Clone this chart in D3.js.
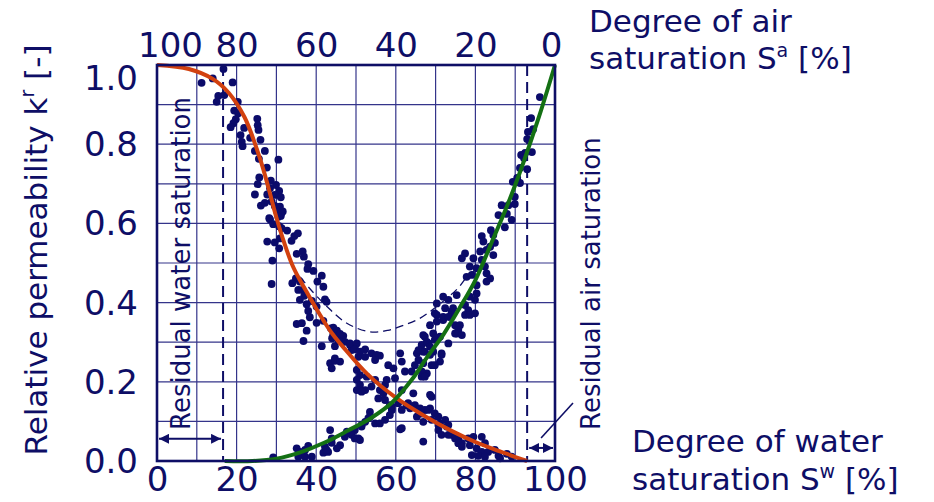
<!DOCTYPE html>
<html>
<head>
<meta charset="utf-8">
<script src="https://cdn.jsdelivr.net/npm/d3@7"></script>
<style>
  body { margin: 0; background: #fff; }
  text { font-family: "DejaVu Sans", Verdana, sans-serif; fill: #0e0e66; }
</style>
</head>
<body>
<svg id="chart" width="934" height="502"></svg>
<script>
// water saturation ticks (bottom) and air saturation ticks (top)
var swTicks = [0, 20, 40, 60, 80, 100];
var saTicks = [100, 80, 60, 40, 20, 0];
var krTicks = [0, 0.2, 0.4, 0.6, 0.8, 1.0];

// residual saturations [%]
var residualWater = 16.6;
var residualAir = 93;

// fitted curves [Sw %, kr]
var krAir = [[0,1.0],[8,0.99],[14,0.965],[18,0.93],[22,0.868],[26,0.76],[28,0.69],[30,0.615],[32,0.55],
  [34,0.495],[36,0.455],[38,0.42],[40,0.385],[42,0.352],[44,0.322],[47,0.285],[53,0.218],[60,0.16],
  [67,0.115],[74,0.076],[80,0.048],[86,0.025],[93,0]];
var krWater = [[17,0],[24,0],[30,0.006],[36,0.022],[42,0.046],[48,0.077],[54,0.11],[59,0.147],
  [64,0.205],[68,0.264],[72,0.32],[76,0.386],[80,0.457],[84,0.55],[88,0.645],[92,0.752],[96,0.87],[100,1.0]];
var krSum = [[36,0.465],[38,0.44],[42.7,0.39],[47.7,0.348],[53.5,0.326],[58,0.33],[62,0.343],[66,0.36],
  [70,0.388],[75.5,0.435],[78.5,0.472],[81.5,0.49]];

// measured points [Sw %, kr]
var measured = [
  [11.2,0.955],[14.0,0.966],[16.7,0.990],[19.0,0.956],[15.4,0.922],[15.0,0.907],[16.9,0.924],[20.3,0.907],
  [19.4,0.885],[20.4,0.878],[19.8,0.863],[19.2,0.853],[18.5,0.843],[21.9,0.841],[25.2,0.864],[25.3,0.848],
  [25.5,0.836],[21.0,0.823],[21.3,0.806],[21.5,0.795],[23.4,0.816],[26.0,0.811],[24.6,0.783],[27.1,0.783],
  [25.6,0.763],[30.5,0.761],[27.6,0.741],[25.7,0.716],[25.3,0.699],[28.6,0.708],[29.9,0.697],[28.4,0.689],
  [30.7,0.682],[24.6,0.673],[27.7,0.673],[29.6,0.672],[31.1,0.666],[28.8,0.655],[26.1,0.645],[27.1,0.652],
  [29.6,0.644],[30.9,0.642],[30.2,0.630],[31.6,0.630],[31.1,0.619],[28.2,0.613],
  [28.4,0.610],[29.2,0.598],[31.2,0.625],[30.5,0.617],[30.7,0.593],[31.3,0.588],[32.7,0.582],[27.7,0.554],
  [29.6,0.552],[30.7,0.537],[30.9,0.562],[33.8,0.556],[34.5,0.568],[35.4,0.575],[29.0,0.506],[28.8,0.447],
  [35.1,0.523],[36.6,0.529],[36.9,0.516],[38.0,0.497],[39.3,0.480],[37.8,0.485],[41.4,0.468],[40.3,0.453],
  [41.8,0.440],[34.9,0.461],[34.0,0.449],[35.9,0.453],[35.5,0.432],[36.6,0.432],[37.0,0.417],[35.9,0.407],
  [37.6,0.396],[38.9,0.404],[40.1,0.390],[42.2,0.408],[42.6,0.402],[38.0,0.379],[38.4,0.363],[40.1,0.349],
  [41.8,0.354],[35.1,0.346],[36.4,0.348],[37.6,0.329],[36.8,0.303],[41.4,0.290],[44.3,0.337],[44.3,0.320],
  [45.6,0.311],[46.8,0.316],[47.2,0.301],[48.5,0.293],[49.7,0.287],[44.7,0.290],[48.9,0.280],[52.3,0.282],
  [53.9,0.272],[56.0,0.266],[44.7,0.259],[50.6,0.263],
  [43.7,0.335],[45.2,0.329],[46.0,0.321],[44.0,0.310],[45.6,0.304],[48.5,0.297],[50.2,0.297],[49.6,0.282],
  [51.0,0.276],[55.2,0.268],[52.3,0.263],[54.8,0.255],[43.5,0.247],[44.7,0.253],[46.0,0.251],[43.9,0.234],
  [50.2,0.230],[51.0,0.217],[50.2,0.205],[52.7,0.213],[54.8,0.205],[58.1,0.242],[59.4,0.234],[61.1,0.272],
  [61.5,0.251],[62.3,0.226],[64.0,0.226],[65.7,0.255],[65.3,0.272],[66.9,0.276],[66.5,0.293],[67.3,0.314],
  [68.2,0.297],[69.8,0.306],[71.1,0.314],[73.2,0.297],[71.9,0.356],[73.6,0.364],[74.0,0.377],[70.3,0.369],
  [75.3,0.322],[71.5,0.272],[69.4,0.276],[69.0,0.242],[67.8,0.221],[66.5,0.213],[64.8,0.242],[51.0,0.192],
  [50.2,0.179],[52.3,0.179],[53.9,0.188],[56.0,0.179],[57.3,0.192],[57.7,0.205],[59.8,0.209],[55.6,0.158],
  [57.3,0.154],[58.5,0.141],[60.6,0.146],[59.0,0.129],[61.5,0.129],[62.7,0.141],[63.6,0.133],[64.8,0.141],
  [66.1,0.133],[67.3,0.129],[68.6,0.133],[69.0,0.162],[65.3,0.112],[66.9,0.099],[69.0,0.104],[70.7,0.112],
  [71.1,0.095],[72.4,0.104],[73.2,0.091],[70.7,0.078],[71.5,0.066],[74.0,0.066],[75.7,0.057],[76.6,0.045],
  [61.5,0.083],[66.9,0.049],[53.5,0.124],[54.8,0.095],[53.1,0.108],[51.4,0.087],[49.7,0.078],[48.5,0.070],
  [50.6,0.057],[47.2,0.061],[46.0,0.040],[43.5,0.078],[43.9,0.057],[43.0,0.023],[42.2,0.036],
  [86.6,0.646],[88.3,0.646],[89.9,0.649],[85.8,0.621],[87.9,0.624],[89.1,0.609],[87.4,0.590],[83.9,0.583],
  [84.5,0.571],[81.6,0.568],[82.0,0.554],[84.9,0.551],[83.7,0.541],[81.2,0.529],[82.8,0.533],[84.5,0.520],
  [77.4,0.524],[76.6,0.512],[79.5,0.512],[81.6,0.508],[82.4,0.491],[80.3,0.487],[78.6,0.491],[77.8,0.465],
  [79.1,0.470],[82.8,0.474],[83.7,0.461],[82.8,0.453],[80.3,0.444],[80.3,0.423],[78.6,0.415],[79.9,0.407],
  [75.3,0.419],[71.9,0.415],[73.2,0.407],[70.3,0.398],[72.4,0.386],[74.4,0.386],[77.4,0.394],[78.2,0.381],
  [77.4,0.369],[78.6,0.369],[79.9,0.373],[69.8,0.373],[71.9,0.364],[73.2,0.364],[70.3,0.352],[68.6,0.343],
  [74.9,0.343],[76.1,0.343],[75.7,0.331],[74.9,0.322],[76.6,0.318],[66.9,0.318],[69.4,0.322],[70.3,0.310],
  [67.8,0.301],[68.6,0.289],[65.7,0.280],[67.3,0.276],[68.6,0.268],[71.5,0.268],[71.1,0.251],[69.8,0.242],
  [66.9,0.247],[66.5,0.226],[67.3,0.213],
  [29.2,0.009],[35.1,0.032],[35.9,0.023],[37.2,0.028],[38.0,0.038],[35.5,0.011],[37.2,0.011],[38.9,0.011],
  [41.8,0.021],[42.6,0.028],[43.9,0.046],[45.2,0.032],[47.7,0.074],[48.9,0.066],[49.7,0.057],[51.0,0.053],
  [51.4,0.091],[52.3,0.099],[53.5,0.112],[56.0,0.095],[57.3,0.104],[58.5,0.116],[61.1,0.080],[59.0,0.137],
  [63.1,0.146],[66.5,0.120],[68.2,0.129],[69.8,0.120],[70.7,0.091],[72.8,0.087],[73.2,0.066],[74.9,0.057],
  [75.7,0.045],[76.6,0.036],[78.2,0.057],[79.5,0.061],[81.6,0.061],[78.6,0.040],[80.3,0.032],[82.4,0.045],
  [81.6,0.023],[79.1,0.015],[80.7,0.013],[83.2,0.023],[84.9,0.028],[85.8,0.013],[87.9,0.018],[89.1,0.011],
  [82.4,0.011],[86.2,0.007],[51.4,0.175],[56.9,0.171],[61.5,0.179],[64.4,0.171],[68.6,0.167],
  [96.2,0.919],[94.0,0.866],[94.5,0.838],[93.2,0.831],[93.0,0.813],[94.2,0.780],[92.5,0.778],[91.5,0.773],
  [92.2,0.765],[91.2,0.740],[93.0,0.737],[90.5,0.715],[89.4,0.705],[91.2,0.702],[89.9,0.667]
];

var navy = '#0e0e66';
var svg = d3.select('#chart');
var plotLeft = 157, plotTop = 65, plotW = 398, plotH = 396;

var x = d3.scaleLinear().domain([0, 100]).range([plotLeft, plotLeft + plotW]);
var xAir = d3.scaleLinear().domain([100, 0]).range([plotLeft, plotLeft + plotW]);
var y = d3.scaleLinear().domain([0, 1]).range([plotTop + plotH, plotTop]);

// grid
var grid = svg.append('g').attr('stroke', '#34348a').attr('stroke-width', 1.2);
grid.selectAll('line.v')
  .data(d3.range(10, 100, 10))
  .enter().append('line')
    .attr('x1', x).attr('x2', x)
    .attr('y1', plotTop).attr('y2', plotTop + plotH);
grid.selectAll('line.h')
  .data(d3.range(1, 10).map(function(d) { return d / 10; }))
  .enter().append('line')
    .attr('y1', y).attr('y2', y)
    .attr('x1', plotLeft).attr('x2', plotLeft + plotW);

// residual saturation markers
svg.selectAll('line.residual')
  .data([residualWater, residualAir])
  .enter().append('line')
    .attr('x1', x).attr('x2', x)
    .attr('y1', plotTop).attr('y2', plotTop + plotH)
    .attr('stroke', navy)
    .attr('stroke-width', 2)
    .attr('stroke-dasharray', '11,6');

// measurements
svg.append('g')
  .selectAll('circle')
  .data(measured)
  .enter().append('circle')
    .attr('cx', function(d) { return x(d[0]); })
    .attr('cy', function(d) { return y(d[1]); })
    .attr('r', 3.9)
    .attr('fill', '#0b0b6a');

var line = d3.line()
  .x(function(d) { return x(d[0]); })
  .y(function(d) { return y(d[1]); })
  .curve(d3.curveCatmullRom.alpha(0.5));

svg.append('path').attr('d', line(krSum))
  .attr('fill', 'none').attr('stroke', navy)
  .attr('stroke-width', 1.3).attr('stroke-dasharray', '8,5');
svg.append('path').attr('d', line(krAir))
  .attr('fill', 'none').attr('stroke', '#d2410f').attr('stroke-width', 4);
svg.append('path').attr('d', line(krWater))
  .attr('fill', 'none').attr('stroke', '#147014').attr('stroke-width', 4);

// frame
svg.append('rect')
  .attr('x', plotLeft).attr('y', plotTop).attr('width', plotW).attr('height', plotH)
  .attr('fill', 'none').attr('stroke', navy).attr('stroke-width', 2.6);

// axes labels
var bottomAxis = d3.axisBottom(x).tickValues(swTicks).tickSize(0).tickPadding(6);
svg.append('g').attr('transform', 'translate(0,' + (plotTop + plotH) + ')')
  .call(bottomAxis)
  .call(function(g) {
    g.select('.domain').remove();
    g.selectAll('text').attr('font-size', 34).attr('fill', navy)
      .attr('font-family', '"DejaVu Sans", Verdana, sans-serif');
  });

var topAxis = d3.axisTop(xAir).tickValues(saTicks).tickSize(0).tickPadding(8);
svg.append('g').attr('transform', 'translate(0,' + plotTop + ')')
  .call(topAxis)
  .call(function(g) {
    g.select('.domain').remove();
    g.selectAll('text').attr('font-size', 34).attr('fill', navy)
      .attr('font-family', '"DejaVu Sans", Verdana, sans-serif')
      .attr('dx', function(d) { return d === 100 ? 13 : (d === 0 ? -4 : 0); });
  });

var leftAxis = d3.axisLeft(y).tickValues(krTicks).tickSize(0).tickPadding(19)
  .tickFormat(d3.format('.1f'));
svg.append('g').attr('transform', 'translate(' + plotLeft + ',0)')
  .call(leftAxis)
  .call(function(g) {
    g.select('.domain').remove();
    g.selectAll('text').attr('font-size', 34).attr('fill', navy)
      .attr('font-family', '"DejaVu Sans", Verdana, sans-serif')
      .attr('dy', function(d) { return d === 1 ? '0.72em' : '0.34em'; });
  });

// y title
var yt = svg.append('text')
  .attr('transform', 'translate(47,250) rotate(-90)')
  .attr('text-anchor', 'middle')
  .attr('font-size', 31);
yt.append('tspan').text('Relative permeability k');
yt.append('tspan').attr('font-size', 19).attr('dy', -13).text('r');
yt.append('tspan').attr('dy', 13).text(' [-]');

// corner titles
var air = svg.append('text').attr('font-size', 31);
air.append('tspan').attr('x', 589).attr('y', 32).text('Degree of air');
air.append('tspan').attr('x', 589).attr('y', 69).text('saturation S');
air.append('tspan').attr('font-size', 19).attr('dy', -12).text('a');
air.append('tspan').attr('dy', 12).text(' [%]');

var water = svg.append('text').attr('font-size', 31);
water.append('tspan').attr('x', 632).attr('y', 452).text('Degree of water');
water.append('tspan').attr('x', 632).attr('y', 490).text('saturation S');
water.append('tspan').attr('font-size', 19).attr('dy', -12).text('w');
water.append('tspan').attr('dy', 12).text(' [%]');

// residual annotations
svg.append('text')
  .attr('transform', 'translate(' + (x(residualWater) - 33) + ',430) rotate(-90)')
  .attr('font-size', 26)
  .text('Residual water saturation');
svg.append('text')
  .attr('transform', 'translate(600,430) rotate(-90)')
  .attr('font-size', 26)
  .text('Residual air saturation');

// arrow heads
var defs = svg.append('defs');
defs.append('marker')
  .attr('id', 'head')
  .attr('viewBox', '0 0 10 10')
  .attr('refX', 10).attr('refY', 5)
  .attr('markerWidth', 10).attr('markerHeight', 10)
  .attr('markerUnits', 'userSpaceOnUse')
  .attr('orient', 'auto-start-reverse')
  .append('path').attr('d', 'M0,0 L10,5 L0,10 Z').attr('fill', navy);

svg.append('line')
  .attr('x1', x(0) + 2).attr('x2', x(residualWater) - 2)
  .attr('y1', y(0.056)).attr('y2', y(0.056))
  .attr('stroke', navy).attr('stroke-width', 2)
  .attr('marker-start', 'url(#head)').attr('marker-end', 'url(#head)');
svg.append('line')
  .attr('x1', x(residualAir) + 2).attr('x2', x(100) - 2)
  .attr('y1', y(0.033)).attr('y2', y(0.033))
  .attr('stroke', navy).attr('stroke-width', 2)
  .attr('marker-start', 'url(#head)').attr('marker-end', 'url(#head)');
svg.append('line')
  .attr('x1', x(96.5)).attr('y1', y(0.058))
  .attr('x2', 573).attr('y2', 403)
  .attr('stroke', navy).attr('stroke-width', 1.6);
</script>
</body>
</html>
